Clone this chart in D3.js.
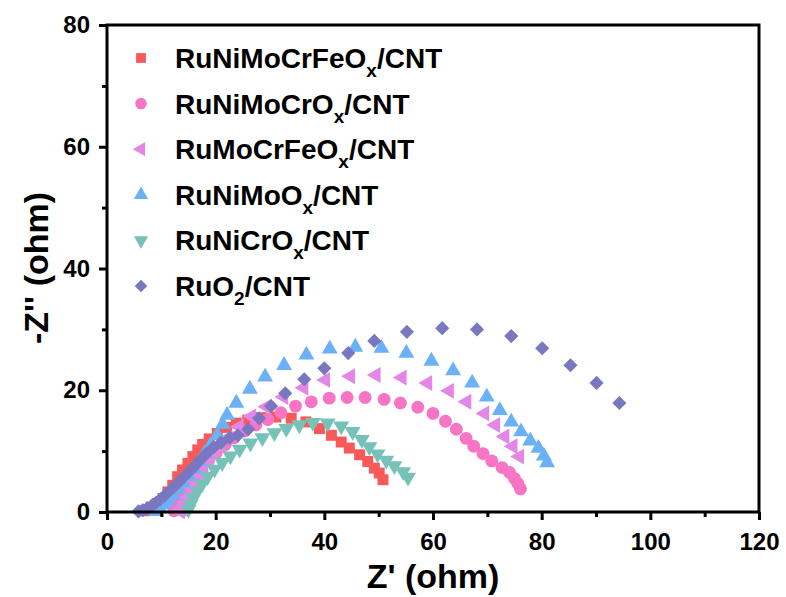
<!DOCTYPE html>
<html>
<head>
<meta charset="utf-8">
<script src="https://cdn.jsdelivr.net/npm/d3@7"></script>
<style>
    body { margin: 0; background: #fff; }
    svg text { font-family: Arial, "Liberation Sans", sans-serif; font-weight: bold; fill: #000; }
</style>
</head>
<body>
<div id="chart"></div>
<script>
// Nyquist data: [Z', -Z''] in ohm
const ruNiMoCrFeOx = [[7.0,0.2],[8.1,0.8],[9.3,1.4],[10.3,2.2],[11.2,3.3],[12.1,4.4],[13.0,5.8],[13.9,6.9],[14.9,8.0],[15.8,9.1],[16.7,10.2],[17.6,11.1],[18.8,12.0],[20.3,12.9],[22.0,13.9],[23.8,14.6],[25.9,15.1],[28.4,15.5],[31.1,15.6],[33.9,15.4],[36.6,14.8],[39.1,13.7],[41.3,12.6],[43.1,11.5],[44.6,10.5],[46.5,9.4],[48.0,8.3],[49.2,7.2],[50.1,6.4],[50.8,5.3]];
const ruNiMoCrOx = [[12.3,0.2],[12.7,0.9],[13.2,1.7],[13.8,2.6],[14.5,3.6],[15.3,4.7],[16.3,5.9],[17.4,7.1],[18.7,8.4],[20.1,9.7],[21.7,11.0],[23.4,12.2],[25.3,13.3],[27.4,14.3],[29.6,15.2],[32.0,16.3],[34.7,17.4],[37.6,18.1],[40.9,18.7],[44.2,18.8],[47.5,18.8],[51.0,18.5],[54.0,17.9],[57.2,17.2],[60.0,16.2],[62.3,14.9],[64.3,13.6],[66.1,12.1],[67.5,10.8],[69.2,9.6],[70.8,8.4],[72.7,7.3],[74.1,6.5],[75.0,5.5],[75.6,4.7],[76.1,3.8]];
const ruMoCrFeOx = [[13.5,0.1],[13.8,0.5],[14.1,1.0],[14.4,1.6],[14.8,2.3],[15.2,3.1],[15.7,4.0],[16.3,5.0],[17.0,6.1],[17.8,7.2],[18.8,8.4],[19.9,9.6],[21.0,10.8],[22.2,12.1],[24.3,14.0],[26.6,15.7],[29.4,17.3],[32.5,18.9],[36.2,20.4],[40.2,21.7],[44.8,22.3],[49.5,22.5],[54.3,22.1],[59.0,21.2],[63.0,19.9],[66.2,18.1],[69.5,16.2],[71.5,14.3],[73.2,12.4],[74.7,10.8],[75.9,9.1]];
const ruNiMoOx = [[9.0,0.1],[9.7,0.6],[10.5,1.2],[11.3,1.9],[12.2,2.8],[13.1,3.8],[14.0,4.8],[15.0,5.9],[16.0,7.1],[17.0,8.3],[18.0,9.6],[19.0,10.9],[20.3,12.6],[21.3,14.4],[22.1,15.9],[23.8,17.9],[26.3,20.2],[29.1,22.2],[32.6,24.1],[36.7,25.8],[41.0,26.8],[45.7,27.1],[50.5,26.9],[55.1,26.1],[59.7,24.8],[63.7,23.2],[67.2,21.2],[69.9,18.9],[72.3,16.7],[74.4,14.8],[76.2,13.2],[77.9,11.7],[79.4,10.5],[80.4,9.2],[81.0,8.1]];
const ruNiCrOx = [[15.0,0.4],[15.4,1.3],[15.9,2.3],[16.6,3.4],[17.5,4.6],[18.5,5.8],[19.8,7.0],[21.2,8.1],[22.7,9.2],[24.4,10.3],[26.4,11.3],[28.6,12.2],[30.8,13.0],[33.0,13.7],[35.4,14.3],[37.9,14.7],[40.6,14.6],[43.1,14.1],[45.2,13.2],[46.9,11.9],[48.3,10.7],[49.8,9.5],[51.4,8.5],[52.9,7.6],[54.5,6.6],[55.4,5.7]];
const ruO2 = [[5.8,0.1],[6.6,0.3],[7.4,0.6],[8.2,1.0],[9.0,1.5],[9.8,2.1],[10.6,2.7],[11.4,3.4],[12.3,4.1],[13.2,4.9],[14.1,5.7],[15.1,6.6],[16.1,7.5],[17.1,8.5],[18.3,9.6],[19.6,10.6],[21.0,11.4],[22.6,12.2],[24.1,12.6],[26.0,13.6],[28.0,15.4],[30.2,17.4],[32.8,19.5],[36.3,21.8],[40.0,23.6],[44.4,26.1],[49.2,28.1],[55.2,29.6],[61.7,30.2],[68.1,30.0],[74.4,28.9],[80.1,26.9],[85.3,24.1],[90.1,21.2],[94.3,17.9]];

const labelHead = ["RuNiMoCrFeO", "RuNiMoCrO", "RuMoCrFeO", "RuNiMoO", "RuNiCrO", "RuO"];
const labelSub  = ["x", "x", "x", "x", "x", "2"];
const labelTail = ["/CNT", "/CNT", "/CNT", "/CNT", "/CNT", "/CNT"];

const xTicks = [0, 20, 40, 60, 80, 100, 120];
const xMinor = [10, 30, 50, 70, 90, 110];
const yTicks = [0, 20, 40, 60, 80];
const yMinor = [10, 30, 50, 70];

const series = [ruNiMoCrFeOx, ruNiMoCrOx, ruMoCrFeOx, ruNiMoOx, ruNiCrOx, ruO2];
const colors = ["#f85a5a", "#f874c4", "#e386e6", "#6bb1f6", "#76c2b8", "#7a77c1"];
// marker shape + rotation per series
const shapes = [
    { type: d3.symbolSquare, size: 120, rot: 0 },
    { type: d3.symbolCircle, size: 130, rot: 0 },
    { type: d3.symbolTriangle, size: 110, rot: -90 },
    { type: d3.symbolTriangle, size: 110, rot: 0 },
    { type: d3.symbolTriangle, size: 110, rot: 180 },
    { type: d3.symbolSquare, size: 100, rot: 45 }
];

const w = 786, h = 597;
const margin = { left: 107, right: 27, top: 25, bottom: 85 };

const svg = d3.select("#chart").append("svg")
    .attr("width", w)
    .attr("height", h);

const x = d3.scaleLinear().domain([0, 120]).range([margin.left, w - margin.right]);
const y = d3.scaleLinear().domain([0, 80]).range([h - margin.bottom, margin.top]);

// markers
series.forEach((data, i) => {
    const sym = d3.symbol().type(shapes[i].type).size(shapes[i].size);
    svg.append("g").selectAll("path")
        .data(data)
        .enter()
        .append("path")
        .attr("d", sym)
        .attr("fill", colors[i])
        .attr("transform", d => `translate(${x(d[0])},${y(d[1])}) rotate(${shapes[i].rot})`);
});

// frame
svg.append("rect")
    .attr("x", x(0)).attr("y", y(80))
    .attr("width", x(120) - x(0)).attr("height", y(0) - y(80))
    .attr("fill", "none").attr("stroke", "#000").attr("stroke-width", 3);

const xAxis = d3.axisBottom(x).tickValues(xTicks).tickSize(8).tickPadding(13).tickFormat(d3.format("d"));
const xAxisMinor = d3.axisBottom(x).tickValues(xMinor).tickSize(5).tickFormat("");
const yAxis = d3.axisLeft(y).tickValues(yTicks).tickSize(8).tickPadding(9).tickFormat(d3.format("d"));
const yAxisMinor = d3.axisLeft(y).tickValues(yMinor).tickSize(5).tickFormat("");

function styleAxis(g) {
    g.select(".domain").remove();
    g.selectAll(".tick line").attr("stroke", "#000").attr("stroke-width", 3);
    g.selectAll(".tick text").style("font-size", "24px");
}

svg.append("g").attr("transform", `translate(0,${y(0)})`).call(xAxis).call(styleAxis);
svg.append("g").attr("transform", `translate(0,${y(0)})`).call(xAxisMinor).call(styleAxis);
svg.append("g").attr("transform", `translate(${x(0)},0)`).call(yAxis).call(styleAxis);
svg.append("g").attr("transform", `translate(${x(0)},0)`).call(yAxisMinor).call(styleAxis);

// axis titles
svg.append("text")
    .attr("x", 433).attr("y", 588)
    .attr("text-anchor", "middle")
    .style("font-size", "34px")
    .text("Z' (ohm)");

svg.append("text")
    .attr("transform", "translate(48,268) rotate(-90)")
    .attr("text-anchor", "middle")
    .style("font-size", "34px")
    .text("-Z'' (ohm)");

// legend
const legend = svg.append("g");
labelHead.forEach((name, i) => {
    const ly = 58 + i * 45.6;
    legend.append("path")
        .attr("d", d3.symbol().type(shapes[i].type).size(shapes[i].size * 0.8))
        .attr("fill", colors[i])
        .attr("transform", `translate(141,${ly}) rotate(${shapes[i].rot})`);
    const t = legend.append("text")
        .attr("x", 175).attr("y", ly + 10)
        .style("font-size", "28px");
    t.append("tspan").text(name);
    t.append("tspan").attr("dy", 9).style("font-size", "19px").text(labelSub[i]);
    t.append("tspan").attr("dy", -9).text(labelTail[i]);
});
</script>
</body>
</html>
